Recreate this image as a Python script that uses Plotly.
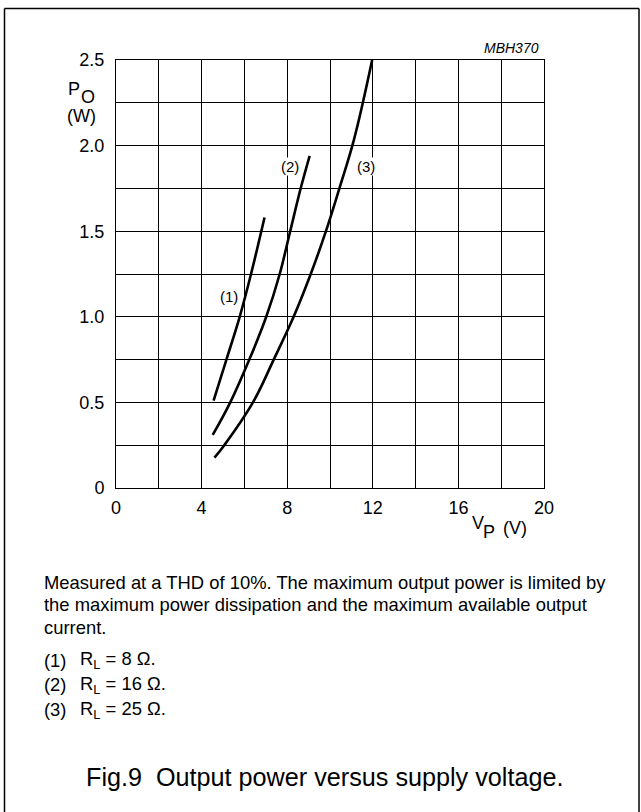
import plotly.graph_objects as go

# ---- data ----
vp_8ohm = [4.56, 5.16, 5.78, 6.31, 6.94]
po_8ohm = [0.51, 0.75, 1.00, 1.25, 1.58]

vp_16ohm = [4.52, 5.34, 6.23, 7.02, 7.65, 8.14, 8.64, 9.05]
po_16ohm = [0.31, 0.50, 0.75, 1.00, 1.25, 1.50, 1.755, 1.94]

vp_25ohm = [4.60, 5.06, 6.40, 7.37, 8.30, 9.10, 9.81, 10.45, 11.12, 11.97]
po_25ohm = [0.177, 0.25, 0.50, 0.75, 1.00, 1.25, 1.50, 1.755, 2.035, 2.50]

curve_labels = ["(1)", "(2)", "(3)"]
label_vp = [5.27, 8.14, 11.67]
label_po = [1.12, 1.88, 1.88]

x_tickvals = [0, 4, 8, 12, 16, 20]
x_ticktext = ["0", "4", "8", "12", "16", "20"]
x_minor = [2, 6, 10, 14, 18]
y_tickvals = [0, 0.5, 1.0, 1.5, 2.0, 2.5]
y_ticktext = ["0", "0.5", "1.0", "1.5", "2.0", "2.5"]
y_minor = [0.25, 0.75, 1.25, 1.75, 2.25]

notes = [
    "Measured at a THD of 10%. The maximum output power is limited by",
    "the maximum power dissipation and the maximum available output",
    "current.",
]
items = ["(1)", "(2)", "(3)"]
item_text = ["R<sub>L</sub> = 8 \u03a9.", "R<sub>L</sub> = 16 \u03a9.", "R<sub>L</sub> = 25 \u03a9."]
caption = "Fig.9\u00a0\u00a0Output power versus supply voltage."
code = "MBH370"

FONT = "Liberation Sans, Arial, Helvetica, sans-serif"
W, H = 641, 812
L, R, T, B = 116, 97, 60, 324
PW = W - L - R
PH = H - T - B


def px(x):
    return (x - L) / PW


def py(y):
    return (H - B - y) / PH


fig = go.Figure()
for xs, ys in [(vp_8ohm, po_8ohm), (vp_16ohm, po_16ohm), (vp_25ohm, po_25ohm)]:
    fig.add_trace(go.Scatter(x=xs, y=ys, mode="lines",
                             line=dict(color="black", width=2.6, shape="spline", smoothing=1.1),
                             showlegend=False, hoverinfo="skip"))

ann = []
for t, xv, yv in zip(curve_labels, label_vp, label_po):
    ann.append(dict(x=xv, y=yv, xref="x", yref="y", text=t, showarrow=False,
                    font=dict(family=FONT, size=15, color="black"),
                    bgcolor="white", borderpad=0))

# axis titles
ann.append(dict(x=px(66), y=py(89), xref="paper", yref="paper", text="P", showarrow=False,
                xanchor="left", yanchor="middle", font=dict(family=FONT, size=18, color="black")))
ann.append(dict(x=px(79), y=py(97), xref="paper", yref="paper", text="O", showarrow=False,
                xanchor="left", yanchor="middle", font=dict(family=FONT, size=18, color="black")))
ann.append(dict(x=px(65), y=py(116.5), xref="paper", yref="paper", text="(W)", showarrow=False,
                xanchor="left", yanchor="middle", font=dict(family=FONT, size=18, color="black")))
ann.append(dict(x=px(470), y=py(523), xref="paper", yref="paper", text="V", showarrow=False,
                xanchor="left", yanchor="middle", font=dict(family=FONT, size=18, color="black")))
ann.append(dict(x=px(481), y=py(532), xref="paper", yref="paper", text="P", showarrow=False,
                xanchor="left", yanchor="middle", font=dict(family=FONT, size=18, color="black")))
ann.append(dict(x=px(501), y=py(528), xref="paper", yref="paper", text="(V)", showarrow=False,
                xanchor="left", yanchor="middle", font=dict(family=FONT, size=18, color="black")))
ann.append(dict(x=px(541), y=py(48), xref="paper", yref="paper", text="<i>" + code + "</i>",
                showarrow=False, xanchor="right", yanchor="middle",
                font=dict(family=FONT, size=14, color="black")))

note_y = [582, 604, 627]
for t, yy in zip(notes, note_y):
    ann.append(dict(x=px(42), y=py(yy), xref="paper", yref="paper", text=t, showarrow=False,
                    xanchor="left", yanchor="middle", font=dict(family=FONT, size=18.4, color="black")))
item_y = [660, 684.5, 709.5]
for t, t2, yy in zip(items, item_text, item_y):
    ann.append(dict(x=px(42), y=py(yy), xref="paper", yref="paper", text=t, showarrow=False,
                    xanchor="left", yanchor="middle", font=dict(family=FONT, size=18.4, color="black")))
    ann.append(dict(x=px(78), y=py(yy), xref="paper", yref="paper", text=t2, showarrow=False,
                    xanchor="left", yanchor="middle", font=dict(family=FONT, size=18.4, color="black")))

ann.append(dict(x=px(324), y=py(777), xref="paper", yref="paper", text=caption, showarrow=False,
                xanchor="center", yanchor="middle", font=dict(family=FONT, size=25.2, color="black")))

shapes = [
    dict(type="line", xref="paper", yref="paper", x0=px(4.5), x1=px(4.5), y0=py(8.5), y1=py(830),
         line=dict(color="black", width=1.5)),
    dict(type="line", xref="paper", yref="paper", x0=px(4.5), x1=px(639), y0=py(8.5), y1=py(8.5),
         line=dict(color="black", width=1.5)),
    dict(type="line", xref="paper", yref="paper", x0=px(639), x1=px(639), y0=py(8.5), y1=py(830),
         line=dict(color="black", width=1.5)),
]

axis_common = dict(showgrid=True, gridcolor="black", gridwidth=1, zeroline=False,
                   showline=True, mirror=True, linecolor="black", linewidth=1,
                   ticks="", tickfont=dict(family=FONT, size=18, color="black"))

fig.update_layout(
    width=W, height=H,
    margin=dict(l=L, r=R, t=T, b=B, pad=0),
    paper_bgcolor="white", plot_bgcolor="white",
    xaxis=dict(range=[0, 20], tickmode="array", tickvals=x_tickvals, ticktext=x_ticktext,
               minor=dict(tickvals=x_minor, showgrid=True, gridcolor="black", gridwidth=1, ticks=""),
               ticklabelstandoff=3, **axis_common),
    yaxis=dict(range=[0, 2.5], tickmode="array", tickvals=y_tickvals, ticktext=y_ticktext,
               minor=dict(tickvals=y_minor, showgrid=True, gridcolor="black", gridwidth=1, ticks=""),
               ticklabelstandoff=7, **axis_common),
    annotations=ann, shapes=shapes, showlegend=False,
)

fig.write_html("out.html", config={"displayModeBar": False},
               post_script="document.body.style.margin='0';")
